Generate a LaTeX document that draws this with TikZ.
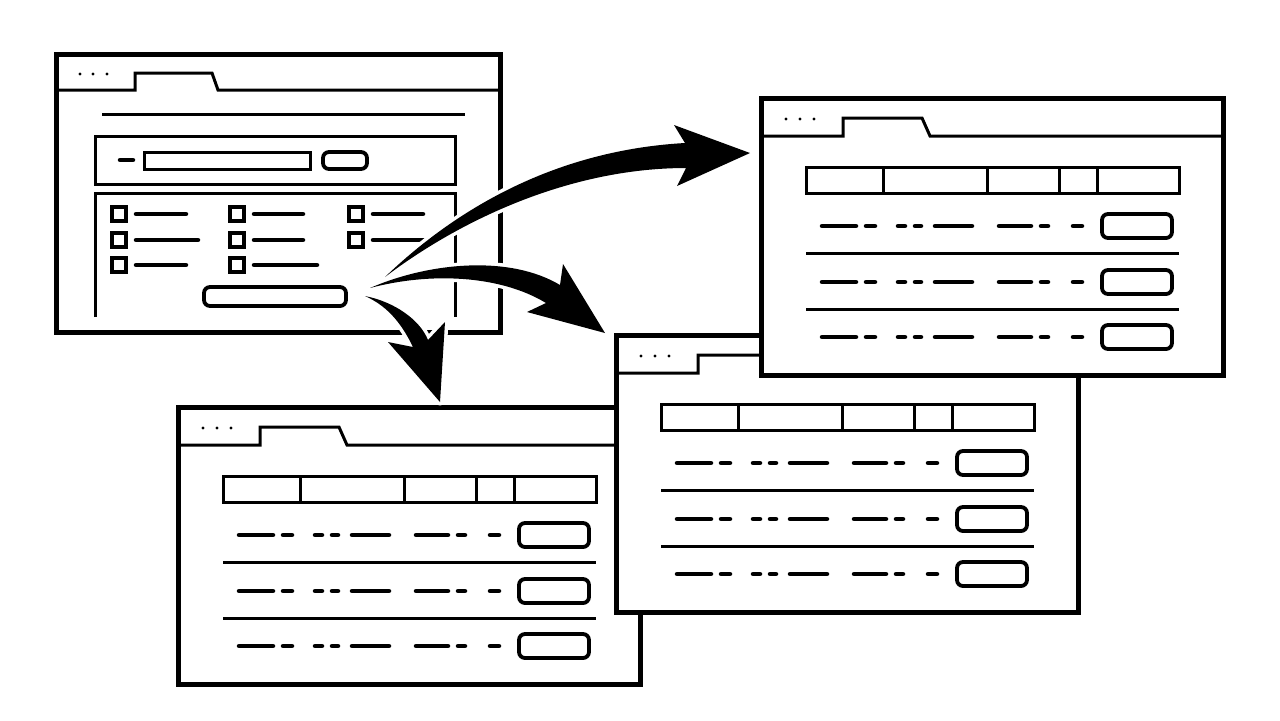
\documentclass[tikz,border=0pt]{standalone}
\usetikzlibrary{positioning}

\begin{document}
\begin{tikzpicture}[
  x=0.1mm, y=-0.1mm,
  frame/.style={line width=0.5mm,fill=white},
  rule/.style={line width=0.3mm},
  stub/.style={line width=0.45mm,line cap=round},
  btn/.style={line width=0.38mm,rounded corners=0.6mm},
  cbox/.style={line width=0.38mm},
  bigarrow/.style={fill=black,preaction={draw=white,line width=0.7mm,line join=round}}
]
\useasboundingbox (0,0) rectangle (1280,720);

% ---------- form window ----------
\draw[frame] (56,54) rectangle (500,332);
\draw[rule] (56,90) -- (135,90) -- (135,73) -- (212,73) -- (218,90) -- (500,90);
\foreach \dx in {80,93,107} \fill (\dx,74) circle (0.17mm);
\draw[rule] (102,114) -- (465,114);
\draw[rule] (95,136) rectangle (455,184);
\draw[stub] (120,160) -- (133,160);
\draw[rule] (144,152) rectangle (310,169);
\draw[btn] (323,152) rectangle (367,169);
\draw[rule] (95,317) -- (95,193) -- (455,193) -- (455,317);
\foreach \cx/\cy/\len in {119/214/50, 119/240/62, 119/265/50,
                          237/214/49, 237/240/49, 237/265/63,
                          356/214/50, 356/240/64} {
  \draw[cbox] (\cx-7,\cy-7) rectangle (\cx+7,\cy+7);
  \draw[stub] (\cx+17,\cy) -- (\cx+17+\len,\cy);
}
\draw[btn] (204,287) rectangle (346,306);

% ---------- list windows ----------
\foreach \wx/\wy in {178/407, 616/335, 761/98} {
  \begin{scope}[shift={(\wx,\wy)}]
    \draw[frame] (0,0) rectangle (462,277);
    \draw[rule] (0,38) -- (82,38) -- (82,20) -- (161,20) -- (169,38) -- (462,38);
    \foreach \dx in {25,39,53} \fill (\dx,21) circle (0.17mm);
    \draw[rule] (45,69) rectangle (418,95);
    \foreach \cx in {122,226,298,336} \draw[rule] (\cx,69) -- (\cx,95);
    \foreach \sy in {155,211} \draw[rule] (45,\sy) -- (418,\sy);
    \foreach \ry in {128,184,239} {
      \foreach \a/\b in {61/95, 105/114, 137/144, 154/160, 174/211, 238/270, 280/287, 312/321}
        \draw[stub] (\a,\ry) -- (\b,\ry);
      \draw[btn] (341,\ry-12) rectangle (411,\ry+12);
    }
  \end{scope}
}

% ---------- arrows ----------
\coordinate (s1) at (385,277);
\coordinate (t1) at (750,153);
\coordinate (s2) at (370,288);
\coordinate (t2) at (605,333);
\coordinate (s3) at (365,296);
\coordinate (t3) at (440,402);

\path[bigarrow] (s1) .. controls (460,205) and (560,150) .. (685,143) -- (674,125) -- (t1)
  -- (677,186) -- (686,168) .. controls (570,168) and (460,220) .. (s1) -- cycle;
\path[bigarrow] (s2) .. controls (430,262) and (510,255) .. (560,285) -- (563,264) -- (t2)
  -- (527,312) -- (546,303) .. controls (500,275) and (430,272) .. (s2) -- cycle;
\path[bigarrow] (s3) .. controls (395,302) and (420,320) .. (428,340) -- (445,322) -- (t3)
  -- (388,342) -- (413,347) .. controls (400,320) and (385,305) .. (s3) -- cycle;

\end{tikzpicture}
\end{document}
